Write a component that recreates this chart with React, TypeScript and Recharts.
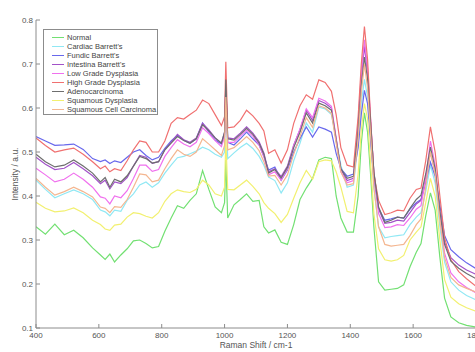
import React from 'react';
import { LineChart, Line, XAxis, YAxis, Legend } from 'recharts';

const wavenumbers = [400,430,460,490,520,550,580,605,620,635,650,670,690,710,730,750,770,790,810,830,850,870,890,910,930,950,970,990,1000,1004,1010,1030,1050,1070,1090,1110,1125,1140,1160,1180,1200,1220,1240,1260,1280,1300,1320,1340,1355,1370,1390,1410,1425,1435,1445,1455,1465,1475,1490,1510,1530,1550,1570,1590,1610,1625,1640,1655,1670,1685,1700,1720,1745,1770,1800];

const normal = [0.330,0.313,0.336,0.312,0.322,0.305,0.282, 0.266,0.256,0.268,0.250,0.266,0.280, 0.298,0.300,0.292,0.282,0.285,0.320,0.350,0.378,0.372,0.390,0.405,0.458,0.415,0.375,0.362, 0.385,0.482,0.350, 0.380,0.392,0.405,0.388,0.390, 0.330,0.316,0.323,0.295,0.290, 0.335,0.392,0.418,0.440,0.482,0.488,0.485, 0.400,0.350,0.318,0.318, 0.400,0.520,0.589,0.545,0.445,0.330,0.205, 0.186,0.188,0.190,0.198,0.239,0.272,0.292,0.355,0.407, 0.368,0.261,0.168,0.125,0.112,0.106,0.102];
const cardiac = [0.436,0.415,0.396,0.405,0.414,0.405,0.392, 0.368,0.364,0.355,0.368,0.365,0.390, 0.405,0.425,0.432,0.420,0.430,0.452,0.470,0.487,0.490,0.496,0.502,0.511,0.505,0.495,0.488, 0.500,0.630,0.485, 0.498,0.510,0.520,0.508,0.490, 0.470,0.443,0.435,0.407,0.430, 0.480,0.520,0.566,0.545,0.602,0.598,0.585, 0.530,0.470,0.420,0.425, 0.520,0.610,0.665,0.625,0.530,0.420,0.330, 0.305,0.308,0.310,0.312,0.335,0.352,0.362,0.410,0.470, 0.430,0.330,0.250,0.205,0.186,0.174,0.164];
const fundic = [0.535,0.525,0.515,0.516,0.518,0.506,0.485, 0.478,0.482,0.474,0.480,0.476,0.488, 0.500,0.505,0.492,0.482,0.488,0.508,0.525,0.538,0.527,0.520,0.530,0.566,0.545,0.527,0.518, 0.540,0.650,0.522, 0.516,0.530,0.545,0.530,0.516, 0.490,0.459,0.466,0.436,0.459, 0.500,0.530,0.557,0.534,0.557,0.552,0.545, 0.497,0.462,0.445,0.450, 0.510,0.585,0.640,0.610,0.520,0.440,0.372, 0.345,0.348,0.352,0.350,0.370,0.385,0.392,0.430,0.477, 0.445,0.380,0.310,0.278,0.262,0.248,0.235];
const intestinal = [0.488,0.472,0.460,0.463,0.476,0.462,0.446, 0.428,0.436,0.416,0.432,0.428,0.442, 0.468,0.492,0.488,0.474,0.478,0.505,0.522,0.540,0.528,0.522,0.532,0.565,0.550,0.532,0.520, 0.545,0.655,0.532, 0.530,0.543,0.557,0.543,0.523, 0.498,0.455,0.462,0.444,0.468, 0.516,0.551,0.595,0.572,0.617,0.611,0.600, 0.530,0.460,0.435,0.440, 0.560,0.670,0.740,0.680,0.565,0.455,0.370, 0.338,0.340,0.345,0.343,0.362,0.382,0.390,0.440,0.500, 0.455,0.362,0.295,0.260,0.243,0.232,0.222];
const lowGrade = [0.463,0.448,0.432,0.438,0.452,0.438,0.420, 0.398,0.395,0.382,0.400,0.396,0.412, 0.440,0.470,0.470,0.456,0.460,0.490,0.510,0.528,0.518,0.512,0.522,0.555,0.542,0.526,0.512, 0.535,0.650,0.522, 0.522,0.536,0.550,0.536,0.516, 0.490,0.448,0.455,0.436,0.462, 0.514,0.552,0.598,0.578,0.622,0.616,0.604, 0.532,0.455,0.430,0.435, 0.565,0.680,0.755,0.690,0.570,0.450,0.360, 0.328,0.330,0.335,0.333,0.350,0.370,0.378,0.440,0.525, 0.470,0.360,0.270,0.225,0.205,0.192,0.180];
const highGrade = [0.532,0.515,0.500,0.505,0.509,0.495,0.478, 0.462,0.468,0.455,0.462,0.458,0.480, 0.505,0.525,0.522,0.500,0.500,0.525,0.565,0.578,0.575,0.585,0.595,0.618,0.610,0.585,0.560, 0.580,0.705,0.555, 0.557,0.572,0.595,0.582,0.565, 0.548,0.497,0.505,0.475,0.505, 0.565,0.605,0.630,0.620,0.664,0.658,0.638, 0.585,0.510,0.470,0.466, 0.580,0.700,0.785,0.710,0.570,0.450,0.390, 0.358,0.362,0.368,0.366,0.395,0.415,0.418,0.480,0.557, 0.500,0.400,0.305,0.255,0.228,0.212,0.195];
const adeno = [0.495,0.478,0.466,0.470,0.482,0.468,0.452, 0.432,0.442,0.420,0.438,0.432,0.446, 0.468,0.490,0.485,0.475,0.478,0.505,0.520,0.535,0.526,0.520,0.530,0.562,0.548,0.532,0.520, 0.545,0.665,0.530, 0.527,0.540,0.554,0.540,0.520, 0.495,0.452,0.460,0.441,0.465, 0.510,0.545,0.589,0.566,0.611,0.605,0.595, 0.527,0.462,0.440,0.445, 0.550,0.650,0.716,0.665,0.560,0.455,0.375, 0.340,0.345,0.352,0.350,0.372,0.392,0.402,0.450,0.511, 0.462,0.365,0.290,0.252,0.236,0.224,0.212];
const squamousDys = [0.386,0.372,0.364,0.366,0.373,0.362,0.345, 0.335,0.325,0.322,0.334,0.336,0.352, 0.362,0.360,0.354,0.350,0.362,0.388,0.405,0.414,0.410,0.408,0.415,0.436,0.425,0.405,0.400, 0.420,0.530,0.415, 0.414,0.425,0.436,0.422,0.405, 0.385,0.372,0.360,0.340,0.358, 0.395,0.430,0.458,0.438,0.478,0.482,0.480, 0.455,0.420,0.365,0.362, 0.450,0.550,0.610,0.575,0.470,0.360,0.280, 0.255,0.252,0.255,0.265,0.300,0.318,0.330,0.385,0.440, 0.400,0.300,0.210,0.170,0.155,0.146,0.138];
const squamousCC = [0.440,0.420,0.402,0.410,0.420,0.410,0.398, 0.375,0.372,0.362,0.376,0.374,0.392, 0.420,0.450,0.448,0.432,0.436,0.462,0.485,0.505,0.495,0.490,0.500,0.530,0.518,0.505,0.492, 0.515,0.625,0.505, 0.510,0.522,0.535,0.522,0.503, 0.478,0.445,0.447,0.425,0.448, 0.495,0.535,0.578,0.556,0.605,0.600,0.588, 0.520,0.455,0.425,0.428, 0.530,0.635,0.700,0.645,0.535,0.420,0.330, 0.290,0.286,0.288,0.290,0.310,0.335,0.348,0.420,0.500, 0.450,0.345,0.260,0.215,0.198,0.190,0.182];

const xTicks = [400, 600, 800, 1000, 1200, 1400, 1600, 1800];
const yTicks = [0.1, 0.2, 0.3, 0.4, 0.5, 0.6, 0.7, 0.8];

const title = 'Mean Raman spectra from snap frozen oesophageal biopsy tissue';
const xLabel = 'Raman Shift / cm-1';
const yLabel = 'Intensity / a.u.';

const series = [
  { key: 'normal', name: 'Normal', color: '#72e072', values: normal },
  { key: 'cardiac', name: "Cardiac Barrett's", color: '#90e8f4', values: cardiac },
  { key: 'fundic', name: "Fundic Barrett's", color: '#6868ec', values: fundic },
  { key: 'intestinal', name: "Intestina Barrett's", color: '#a252c8', values: intestinal },
  { key: 'lowGrade', name: 'Low Grade Dysplasia', color: '#f070ee', values: lowGrade },
  { key: 'highGrade', name: 'High Grade Dysplasia', color: '#f07070', values: highGrade },
  { key: 'adeno', name: 'Adenocarcinoma', color: '#6e6e6e', values: adeno },
  { key: 'squamousDys', name: 'Squamous Dysplasia', color: '#f2f070', values: squamousDys },
  { key: 'squamousCC', name: 'Squamous Cell Carcinoma', color: '#f4b690', values: squamousCC },
];

const data = wavenumbers.map((wn, i) => {
  const row: Record<string, number> = { wn };
  series.forEach((s) => {
    row[s.key] = s.values[i];
  });
  return row;
});

const AXIS = '#8c8c8c';
const TEXT = '#555555';
const FONT = '"Liberation Sans", Arial, sans-serif';
const TICK = 4;

const BottomTick = (p: any) => (
  <g>
    <line x1={p.x} x2={p.x} y1={p.y} y2={p.y - TICK} stroke={AXIS} />
    <text x={p.x} y={p.y + 10} textAnchor="middle" fontSize={8} fill={TEXT} fontFamily={FONT}>
      {p.payload.value}
    </text>
  </g>
);
const TopTick = (p: any) => (
  <line x1={p.x} x2={p.x} y1={p.y} y2={p.y + TICK} stroke={AXIS} />
);
const LeftTick = (p: any) => (
  <g>
    <line x1={p.x} x2={p.x + TICK} y1={p.y} y2={p.y} stroke={AXIS} />
    <text x={p.x - 3} y={p.y + 3} textAnchor="end" fontSize={8} fill={TEXT} fontFamily={FONT}>
      {Number(p.payload.value).toFixed(1)}
    </text>
  </g>
);
const RightTick = (p: any) => (
  <line x1={p.x} x2={p.x - TICK} y1={p.y} y2={p.y} stroke={AXIS} />
);

const seriesOrder = (name: string) => series.findIndex((s) => s.name === name);

const renderLegend = (props: any) => {
  const payload = [...(props.payload || [])].sort(
    (a: any, b: any) => seriesOrder(a.value) - seriesOrder(b.value)
  );
  return (
    <div
      style={{
        width: 115,
        height: 86,
        boxSizing: 'border-box',
        border: `1px solid ${AXIS}`,
        background: '#fff',
        padding: '3px 0 0 8px',
        fontFamily: FONT,
      }}
    >
      {payload.map((entry: any) => (
        <div key={entry.value} style={{ display: 'flex', alignItems: 'center', height: 9 }}>
          <span style={{ display: 'inline-block', width: 12, height: 0, borderTop: `1px solid ${entry.color}`, marginRight: 3 }} />
          <span style={{ fontSize: 7.5, lineHeight: '9px', color: '#444', whiteSpace: 'nowrap' }}>{entry.value}</span>
        </div>
      ))}
    </div>
  );
};

export default function App() {
  return (
    <div
      style={{
        position: 'absolute',
        left: 0,
        top: 0,
        width: 475,
        height: 352,
        overflow: 'hidden',
        background: '#fff',
      }}
    >
      <LineChart width={490} height={352} data={data} margin={{ top: 20, right: 14, bottom: 0, left: 0 }}>
        <XAxis
          dataKey="wn"
          type="number"
          domain={[400, 1800]}
          ticks={xTicks}
          interval={0}
          height={24}
          tickSize={0}
          tickMargin={0}
          tickLine={false}
          tick={<BottomTick />}
          stroke={AXIS}
          allowDataOverflow
          label={{
            content: (p: any) => {
              const vb = p.viewBox || {};
              return (
                <text x={(vb.x ?? 36) + (vb.width ?? 440) / 2} y={(vb.y ?? 328) + 20} textAnchor="middle" fontSize={8.5} fill={TEXT} fontFamily={FONT}>
                  {xLabel}
                </text>
              );
            },
          }}
        />
        <XAxis
          xAxisId="top"
          dataKey="wn"
          type="number"
          orientation="top"
          domain={[400, 1800]}
          ticks={xTicks}
          interval={0}
          height={0}
          tickSize={0}
          tickMargin={0}
          tickLine={false}
          tick={<TopTick />}
          stroke={AXIS}
          allowDataOverflow
          label={{
            content: (p: any) => {
              const vb = p.viewBox || {};
              return (
                <text x={(vb.x ?? 36) + (vb.width ?? 440) / 2} y={(vb.y ?? 20) - 3} textAnchor="middle" fontSize={8.5} fill={TEXT} fontFamily={FONT}>
                  {title}
                </text>
              );
            },
          }}
        />
        <YAxis
          type="number"
          domain={[0.1, 0.8]}
          ticks={yTicks}
          interval={0}
          width={36}
          tickSize={0}
          tickMargin={0}
          tickLine={false}
          tick={<LeftTick />}
          stroke={AXIS}
          allowDataOverflow
          label={{
            content: (p: any) => {
              const vb = p.viewBox || {};
              const cy = (vb.y ?? 20) + (vb.height ?? 308) / 2;
              return (
                <text x={15} y={cy} transform={`rotate(-90, 15, ${cy})`} textAnchor="middle" dominantBaseline="central" fontSize={8.5} fill={TEXT} fontFamily={FONT}>
                  {yLabel}
                </text>
              );
            },
          }}
        />
        <YAxis
          yAxisId="right"
          orientation="right"
          type="number"
          domain={[0.1, 0.8]}
          ticks={yTicks}
          interval={0}
          width={0}
          tickSize={0}
          tickMargin={0}
          tickLine={false}
          tick={<RightTick />}
          stroke={AXIS}
          allowDataOverflow
        />
        <Legend
          layout="vertical"
          align="center"
          verticalAlign="middle"
          content={renderLegend}
          wrapperStyle={{ position: 'absolute', left: 43, top: 29, width: 115, height: 86 }}
        />
        {series.map((s) => (
          <Line
            key={s.key}
            type="linear"
            dataKey={s.key}
            name={s.name}
            stroke={s.color}
            strokeWidth={1.2}
            dot={false}
            activeDot={false}
            isAnimationActive={false}
          />
        ))}
      </LineChart>
    </div>
  );
}
